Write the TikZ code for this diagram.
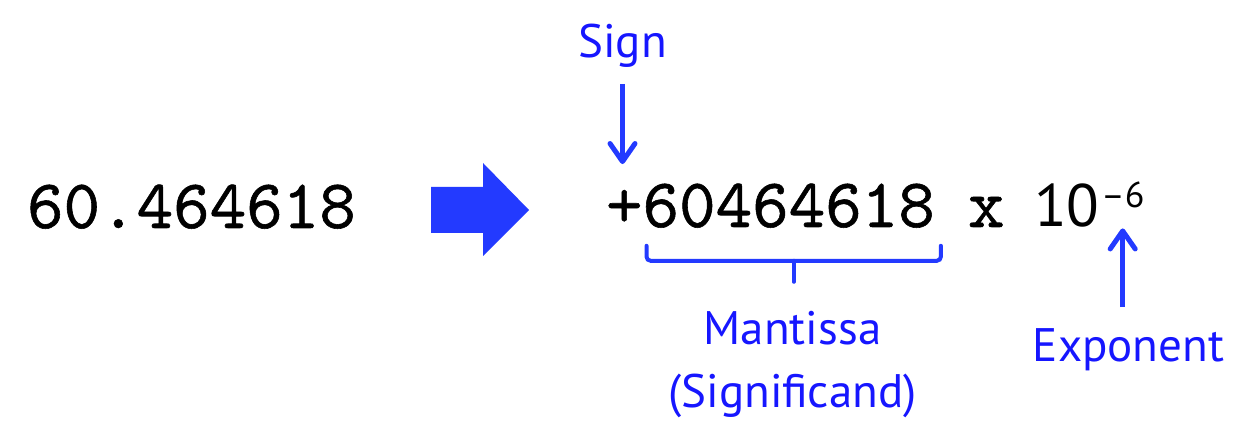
\documentclass[tikz,border=0pt]{standalone}
\usepackage{fontspec}
\usepackage{xcolor}
\usepackage{tikz}
\usetikzlibrary{arrows.meta,calc,positioning}
\newfontfamily\labelfont{PT Sans}
\newfontfamily\numfont[FakeBold=0.8]{lmmono10-regular.otf}
\definecolor{LabelBlue}{RGB}{22,22,255}
\definecolor{MarkBlue}{RGB}{35,58,255}

\begin{document}
\begin{tikzpicture}[x=0.5pt, y=-0.5pt,
    every node/.style={inner sep=0pt, outer sep=0pt},
    numtext/.style={anchor=base west, font=\numfont\bfseries\fontsize{34.8}{40}\selectfont},
    tag/.style={LabelBlue, anchor=base, align=center, font=\labelfont\fontsize{23.5}{31.5}\selectfont},
    callout/.style={MarkBlue, line width=2.5pt, -{Straight Barb[length=9pt, width=12.5pt, line cap=round, round]}},
    bracket/.style={MarkBlue, line width=2pt, line cap=round, rounded corners=2pt}]
    \useasboundingbox (0,0) rectangle (1236,442);
    % decimal value and the conversion arrow
    \node[numtext] (decimal) at (27,228) {60.464618};
    \fill[MarkBlue] (431,187) -- (483,187) -- (483,163) -- (529,210)
        -- (483,256) -- (483,233) -- (431,233) -- cycle;
    % scientific form
    \node[numtext] (plus) at (606,227) {+};
    \node[numtext] (digits) at (plus.base east) {60464618};
    \node[numtext] (times) at (968,227) {x};
    \node[anchor=base west, font=\labelfont\fontsize{30}{36}\selectfont] (base) at (1034,227) {10};
    \node[anchor=base west, font=\labelfont\fontsize{18}{20}\selectfont] (expo) at (1101,208) {–6};
    % labels and callouts
    \node[tag] (sign) at (622.5,58) {Sign};
    \node[tag] (mantissa) at (792.5,408) {Mantissa\\(Significand)};
    \node[tag] (exponent) at (1128.5,362) {Exponent};
    \draw[callout, shorten <=8pt, shorten >=13pt] (sign.south) -- (sign.south |- plus.north);
    \draw[callout, shorten <=11pt, shorten >=10pt] (exponent.north -| expo.south) -- (expo.south);
    \coordinate (brL) at ([xshift=2pt, yshift=-9pt]digits.south west);
    \coordinate (brR) at ([xshift=3pt, yshift=-9pt]digits.south east);
    \draw[bracket] (brL) -- ++(0,15) -| (brR);
    \draw[bracket] ($(brL)!0.5!(brR)$) ++(0,15) -- ++(0,21);
\end{tikzpicture}
\end{document}
